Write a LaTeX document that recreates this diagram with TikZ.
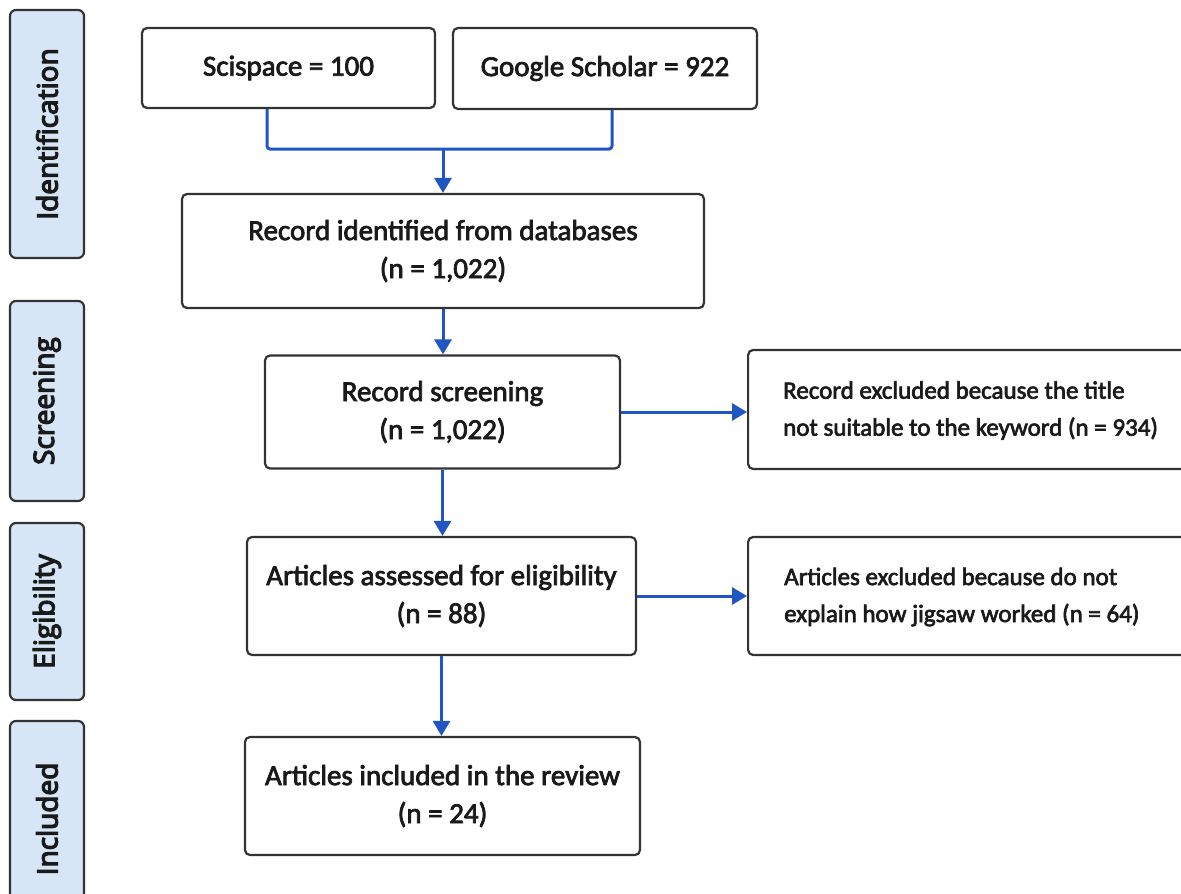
\documentclass[tikz,border=0pt]{standalone}
\usepackage{fontspec}
\setmainfont{Carlito}[FakeBold=2.6]
\newfontfamily\sidefont{Open Sans}[FakeBold=4.5]
\usetikzlibrary{arrows.meta}
\definecolor{boxline}{HTML}{333333}
\definecolor{sidefill}{HTML}{D6E6F6}
\definecolor{flowblue}{HTML}{1F56C3}
\definecolor{ink}{HTML}{1A1A1A}
\begin{document}
\begin{tikzpicture}[x=1pt,y=-1pt,
  box/.style={draw=boxline, line width=2.2pt, rounded corners=5pt, fill=white, align=center,
    text=ink, font=\fontsize{29}{38}\selectfont, inner sep=0pt},
  exbox/.style={draw=boxline, line width=2.2pt, rounded corners=5pt, fill=white, anchor=west,
    minimum width=480pt, inner sep=0pt},
  extext/.style={anchor=west, align=left, inner sep=0pt, text=ink, font=\fontsize{25}{37}\selectfont},
  side/.style={draw=boxline, line width=2.2pt, rounded corners=6pt, fill=sidefill, inner sep=0pt,
    rotate=90, minimum height=74pt, text=ink, font=\sidefont\fontsize{28}{34}\selectfont},
  link/.style={draw=flowblue, line width=3pt, rounded corners=3pt},
  flow/.style={draw=flowblue, line width=3pt, -{Triangle[length=15pt,width=17pt]}},
]
\clip (0,0) rectangle (1181,894);
\fill[white] (0,0) rectangle (1181,894);

% phase labels
\node[side, minimum width=248pt] (sid) at (47,134) {Identification};
\node[side, minimum width=200pt] (ssc) at (47,401) {Screening};
\node[side, minimum width=177pt] (sel) at (47,611.5) {Eligibility};
\node[side, minimum width=196pt] (sin) at (47,819) {Included};

% boxes
\node[box, minimum width=293pt, minimum height=80pt] (sci) at (288.5,68) {Scispace = 100};
\node[box, minimum width=304pt, minimum height=81pt] (gs) at (605,68.5) {Google Scholar = 922};
\node[box, minimum width=522pt, minimum height=114pt] (rid) at (443,251) {Record identified from databases\\(n = 1,022)};
\node[box, minimum width=355pt, minimum height=113pt] (rs) at (442.5,412) {Record screening\\(n = 1,022)};
\node[box, minimum width=389pt, minimum height=118pt] (ea) at (441.5,596) {Articles assessed for eligibility\\(n = 88)};
\node[box, minimum width=395pt, minimum height=118pt] (ai) at (442.5,796) {Articles included in the review\\(n = 24)};
\node[exbox, minimum height=119pt] (ex1) at (747,409.5) {};
\node[extext] (ex1t) at ([xshift=36pt,yshift=-1pt]ex1.west) {Record excluded because the title\\not suitable to the keyword (n = 934)};
\node[exbox, minimum height=118pt] (ex2) at (747,596) {};
\node[extext] (ex2t) at ([xshift=37pt,yshift=-1pt]ex2.west) {Articles excluded because do not\\explain how jigsaw worked (n = 64)};

% connectors
\coordinate (m) at (443,149);
\draw[link] ([xshift=-21.5pt]sci.south) |- (m) -| ([xshift=7pt]gs.south);
\draw[flow] (m) -- (rid.north);
\draw[flow] (rid.south) -- (rid.south |- rs.north);
\draw[flow] (rs.east) -- (rs.east -| ex1.west);
\draw[flow] (rs.south) -- (rs.south |- ea.north);
\draw[flow] (ea.east) -- (ea.east -| ex2.west);
\draw[flow] (ea.south) -- (ea.south |- ai.north);
\end{tikzpicture}
\end{document}
